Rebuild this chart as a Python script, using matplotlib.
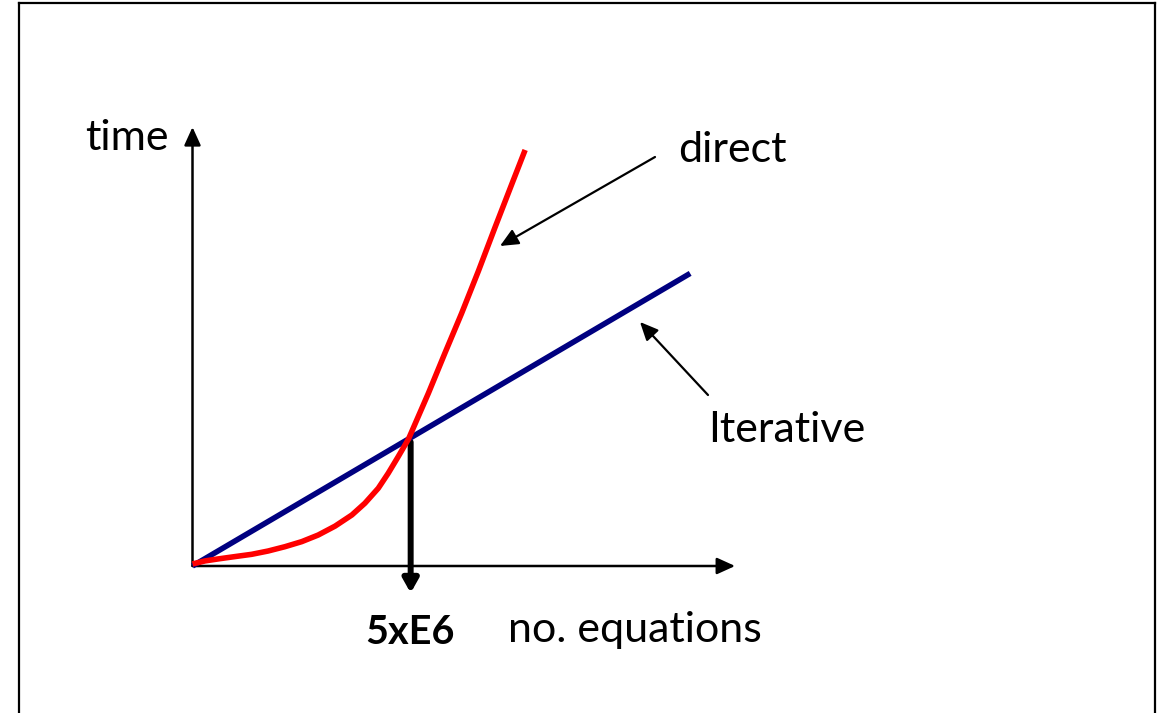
import matplotlib
matplotlib.use("Agg")
import matplotlib.pyplot as plt
from matplotlib.lines import Line2D

# Schematic data: x = no. equations (units of 1E6), y = time (arbitrary units)
direct_n = [0.0, 0.29, 0.60, 0.98, 1.37, 1.75, 2.14, 2.53, 2.91, 3.30, 3.69, 3.99, 4.30,
            4.53, 4.76, 5.0, 5.46, 5.84, 6.23, 6.62, 7.00, 7.39, 7.70]
direct_t = [0.08, 0.20, 0.28, 0.37, 0.46, 0.59, 0.76, 0.96, 1.22, 1.57, 2.01, 2.47, 3.06,
            3.65, 4.30, 5.0, 6.80, 8.37, 9.95, 11.62, 13.32, 15.03, 16.38]
iter_n = [0.0, 11.52]
iter_t = [0.0, 11.52]
crossover_n = 5.0
crossover_label = "5xE6"
x_axis_end = 12.56
y_axis_end = 17.28

W, H = 1166, 713
fig = plt.figure(figsize=(W / 100, H / 100), dpi=100)
ax = fig.add_axes([0, 0, 1, 1])
ax.set_axis_off()

# pixel mapping: origin at (192.5, 566), 43.2 px per x unit, 25.4 px per y unit
ox, oy, sx, sy = 192.5, 566.0, 43.2, 25.4
ax.set_xlim(-ox / sx, (W - ox) / sx)
ax.set_ylim((oy - H) / sy, oy / sy)

def P(px, py):
    return ((px - ox) / sx, (oy - py) / sy)

FONT = ["Lato", "DejaVu Sans"]
FS = 31

# frame border
for xs, ys in [([19, 19], [H, 3]), ([19, 1155], [3, 3]), ([1155, 1155], [3, H])]:
    fig.add_artist(Line2D([x / W for x in xs], [1 - y / H for y in ys], color="black", lw=1.6,
                          transform=fig.transFigure))

# axes arrows
axis_arrow = dict(arrowstyle="-|>,head_length=1.1,head_width=0.5", color="black", lw=1.8,
                  shrinkA=0, shrinkB=0)
ax.annotate("", xy=(x_axis_end, 0), xytext=(0, 0), arrowprops=axis_arrow)
ax.annotate("", xy=(0, y_axis_end), xytext=(0, 0), arrowprops=axis_arrow)

# curves
ax.plot(iter_n, iter_t, color="#000080", lw=4.0, solid_capstyle="butt", zorder=3)
ax.plot(direct_n, direct_t, color="#FF0000", lw=4.0, solid_capstyle="butt",
        solid_joinstyle="round", zorder=4)

# crossover marker arrow
ax.annotate("", xy=(crossover_n + 0.05, P(0, 593)[1]), xytext=(crossover_n + 0.05, P(0, 442)[1]),
            arrowprops=dict(arrowstyle="-|>,head_length=0.8,head_width=0.45", color="black", lw=4.3,
                            shrinkA=0, shrinkB=0), zorder=2)

# labels
ax.text(*P(127, 138), "time", fontsize=FS, family=FONT, ha="center", va="center")
ax.text(*P(410, 632), crossover_label, fontsize=FS * 0.92, family=FONT, weight="bold",
        ha="center", va="center")
ax.text(*P(635, 630), "no. equations", fontsize=FS, family=FONT, ha="center", va="center")
ax.text(*P(732, 150), "direct", fontsize=FS, family=FONT, ha="center", va="center")
ax.text(*P(787, 430), "Iterative", fontsize=FS, family=FONT, ha="center", va="center")

# annotation arrows
note_arrow = dict(arrowstyle="-|>,head_length=1.1,head_width=0.5", color="black", lw=1.6,
                  shrinkA=0, shrinkB=0)
ax.annotate("", xy=P(500, 246), xytext=P(655, 157), arrowprops=note_arrow)
ax.annotate("", xy=P(640, 322), xytext=P(708, 395), arrowprops=note_arrow)

fig.savefig("out.png", dpi=100, facecolor="white")
